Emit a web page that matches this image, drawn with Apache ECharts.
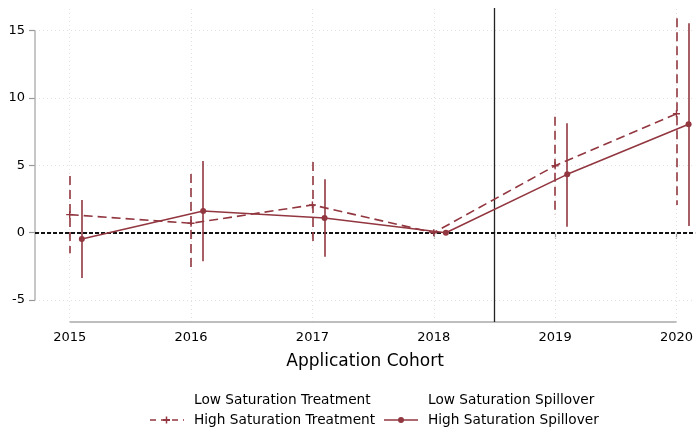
<!DOCTYPE html>
<html><head><meta charset="utf-8">
<script src="https://cdn.jsdelivr.net/npm/echarts@6/dist/echarts.min.js"></script>
<style>html,body{margin:0;padding:0;background:#fff}#c{width:696px;height:428px}</style>
</head><body><div id="c"></div>
<script>
// ---- data ----
const years = [2015, 2016, 2017, 2018, 2019, 2020];
const yTicks = [-5, 0, 5, 10, 15];
const treatEst = [1.34, 0.70, 2.06, 0, 4.97, 8.83];
const treatLo  = [-1.53, -2.92, -0.99, null, 1.31, 2.06];
const treatHi  = [4.21, 4.36, 5.25, null, 8.61, 15.92];
const spillEst = [-0.47, 1.61, 1.09, 0, 4.33, 8.05];
const spillLo  = [-3.36, -2.12, -1.78, null, 0.45, 0.50];
const spillHi  = [2.43, 5.32, 3.96, null, 8.12, 15.55];
const spillOffset = 0.1;
const eventX = 2018.5;
const legendLabels = ['Low Saturation Treatment','High Saturation Treatment','Low Saturation Spillover','High Saturation Spillover'];

// ---- style ----
const RED = '#923740';
const FONT = 'DejaVu Sans';
const xMin = 2014.714, xMax = 2020.154, yMin = -6.63, yMax = 16.68;

const treatPts = years.map((y,i)=>[y, treatEst[i]]);
const spillPts = years.map((y,i)=>[y+spillOffset, spillEst[i]]);
const treatCI = years.map((y,i)=>[y, treatLo[i], treatHi[i]]).filter(d=>d[1]!=null);
const spillCI = years.map((y,i)=>[y+spillOffset, spillLo[i], spillHi[i]]).filter(d=>d[1]!=null);

// segments drawn top -> bottom so dash pattern starts at the upper end
const ciSegs = (ci)=>ci.map(d=>[{coord:[d[0],d[2]]},{coord:[d[0],d[1]]}]);
const plusPath = 'path://M4,0 L6,0 L6,4 L10,4 L10,6 L6,6 L6,10 L4,10 L4,6 L0,6 L0,4 L4,4 Z';

const option = {
  animation:false,
  textStyle:{fontFamily:FONT},
  grid:{left:35, right:0, top:8, bottom:106},
  xAxis:{type:'value', min:xMin, max:xMax,
    name:'Application Cohort', nameLocation:'middle', nameGap:31,
    nameTextStyle:{fontSize:17, color:'#000', fontFamily:FONT},
    axisLine:{show:false},
    axisTick:{show:true, customValues:years, length:6, lineStyle:{color:'#999', width:1.2}},
    axisLabel:{customValues:years, fontSize:13, color:'#000', margin:9, fontFamily:FONT, formatter:v=>String(Math.round(v))},
    splitLine:{show:false}},
  yAxis:{type:'value', min:yMin, max:yMax,
    axisLine:{show:false},
    axisTick:{show:true, customValues:yTicks, length:6, lineStyle:{color:'#999', width:1.2}},
    axisLabel:{customValues:yTicks, fontSize:13, color:'#000', margin:10, fontFamily:FONT, formatter:v=>String(Math.round(v))},
    splitLine:{show:false}},
  series:[
    {type:'line', data:[], silent:true, z:1,
      markLine:{silent:true, symbol:'none', label:{show:false}, animation:false,
        lineStyle:{color:'#e2e2e2', type:[1,3], width:1},
        data: years.map(y=>({xAxis:y})).concat(yTicks.map(v=>({yAxis:v})))}},
    {type:'line', data:[], silent:true, z:2,
      markLine:{silent:true, symbol:'none', label:{show:false}, animation:false,
        data:[
          [{coord:[xMin,yTicks[0]], lineStyle:{color:'#b5b5b5', width:1.5, type:'solid'}},{coord:[xMin,yTicks[yTicks.length-1]]}],
          [{coord:[years[0],yMin], lineStyle:{color:'#a8a8a8', width:1.5, type:'solid'}},{coord:[years[years.length-1],yMin]}],
          {xAxis:eventX, lineStyle:{color:'#222', width:1.3, type:'solid'}},
          {yAxis:0, lineStyle:{color:'#111', width:2, type:[4,2]}}
        ]}},
    {name:'High Saturation Treatment', type:'line', data:treatPts, z:5,
      lineStyle:{color:RED, width:1.6, type:[9,5]},
      symbol:plusPath, symbolSize:7, itemStyle:{color:RED},
      markLine:{silent:true, symbol:'none', label:{show:false}, animation:false,
        lineStyle:{color:RED, width:1.6, type:[9,5]}, data:ciSegs(treatCI)}},
    {name:'High Saturation Spillover', type:'line', data:spillPts, z:5,
      lineStyle:{color:RED, width:1.6, type:'solid'},
      symbol:'circle', symbolSize:6, itemStyle:{color:RED},
      markLine:{silent:true, symbol:'none', label:{show:false}, animation:false,
        lineStyle:{color:RED, width:1.6, type:'solid'}, data:ciSegs(spillCI)}}
  ],
  graphic:[
    {type:'text', left:194, top:393, style:{text:legendLabels[0], fontSize:13.7, fontFamily:FONT, fill:'#000'}},
    {type:'text', left:194, top:413, style:{text:legendLabels[1], fontSize:13.7, fontFamily:FONT, fill:'#000'}},
    {type:'text', left:428, top:393, style:{text:legendLabels[2], fontSize:13.7, fontFamily:FONT, fill:'#000'}},
    {type:'text', left:428, top:413, style:{text:legendLabels[3], fontSize:13.7, fontFamily:FONT, fill:'#000'}},
    {type:'line', shape:{x1:150,y1:420,x2:184,y2:420}, style:{stroke:RED, lineWidth:1.5, lineDash:[6,5]}},
    {type:'line', shape:{x1:163,y1:420,x2:170,y2:420}, style:{stroke:RED, lineWidth:2}},
    {type:'line', shape:{x1:166.5,y1:416.5,x2:166.5,y2:423.5}, style:{stroke:RED, lineWidth:1.5}},
    {type:'line', shape:{x1:384,y1:420,x2:418,y2:420}, style:{stroke:RED, lineWidth:1.5}},
    {type:'circle', shape:{cx:401, cy:420, r:3}, style:{fill:RED}}
  ]
};
const chart = echarts.init(document.getElementById('c'), null, {renderer:'canvas'});
chart.setOption(option);
</script></body></html>
